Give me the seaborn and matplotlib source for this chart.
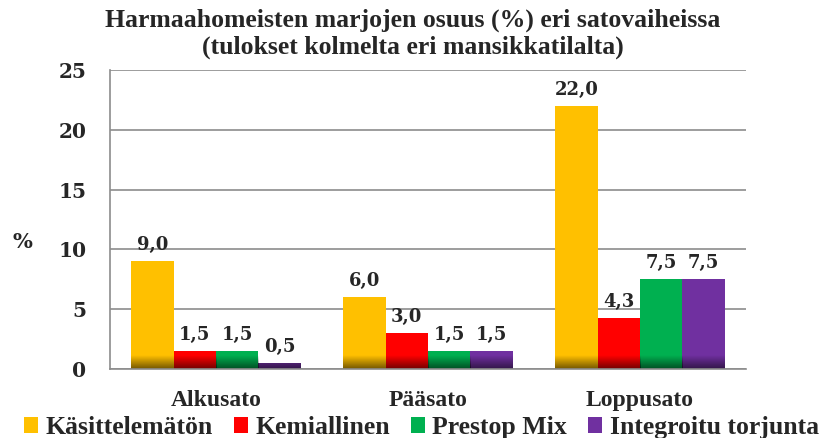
import numpy as np
import pandas as pd
import matplotlib
matplotlib.use("Agg")
import matplotlib.pyplot as plt
import seaborn as sns
from matplotlib.patches import Patch

# ============================================================
# DATA
# ============================================================

vaiheet = ["Alkusato", "Pääsato", "Loppusato"]
kasittelyt = ["Käsittelemätön", "Kemiallinen", "Prestop Mix", "Integroitu torjunta"]

kasittelematon = [9.0, 6.0, 22.0]
kemiallinen = [1.5, 3.0, 4.3]
prestop = [1.5, 1.5, 7.5]
integroitu = [0.5, 1.5, 7.5]

varit = ["#FFC000", "#FF0000", "#00B050", "#7030A0"]

y_ticks = [0, 5, 10, 15, 20, 25]

title = "Harmaahomeisten marjojen osuus (%) eri satovaiheissa\n(tulokset kolmelta eri mansikkatilalta)"

rows = []
for k, arvot in zip(kasittelyt, [kasittelematon, kemiallinen, prestop, integroitu]):
    for v, a in zip(vaiheet, arvot):
        rows.append({"vaihe": v, "kasittely": k, "osuus": a})
df = pd.DataFrame(rows)

# ============================================================
# PLOT
# ============================================================

sns.set_style("white")

cond = "Liberation Serif"
num = "DejaVu Serif"

fig = plt.figure(figsize=(8.26, 4.38), dpi=100)
ax = fig.add_axes([0.1332, 0.1575, 0.7699, 0.6827])

sns.barplot(
    data=df, x="vaihe", y="osuus", hue="kasittely",
    order=vaiheet, hue_order=kasittelyt, palette=varit,
    width=0.8, saturation=1, legend=False, ax=ax, errorbar=None,
    edgecolor="none"
)

# darker shade at the bottom of every bar
grad = np.zeros((32, 1, 4))
grad[:, 0, 3] = np.linspace(0.55, 0.0, 32)
for bar in ax.patches:
    x0 = bar.get_x()
    w = bar.get_width()
    im = ax.imshow(grad, extent=(x0, x0 + w, 0, 1.1), origin="lower",
                   aspect="auto", interpolation="bilinear", zorder=bar.get_zorder() + 0.1)
    im.set_clip_path(bar)

for cont in ax.containers:
    ax.bar_label(cont, labels=[f"{v:.1f}".replace(".", ",") for v in cont.datavalues],
                 padding=5, fontsize=13, fontweight="bold", family=num)

ax.set_xlim(-0.5, 2.5)
ax.set_ylim(0, 25)
ax.set_yticks(y_ticks)
ax.set_yticklabels([str(t) for t in y_ticks], fontsize=14.5, fontweight="bold", family=num)
ax.set_xticks(range(3))
ax.set_xticklabels(vaiheet, fontsize=17, fontweight="bold", family=cond)
ax.set_xticks([-0.5, 0.5, 1.5, 2.5], minor=True)
ax.tick_params(axis="x", which="major", length=0, pad=15)
ax.tick_params(axis="x", which="minor", length=6, color="#8C8C8C", width=1.2, direction="out")
ax.tick_params(axis="y", length=7, color="#8C8C8C", width=1.2, direction="out", pad=10)

ax.grid(axis="y", color="#8C8C8C", linewidth=1.2)
ax.set_axisbelow(True)
for s in ["top", "right"]:
    ax.spines[s].set_visible(False)
for s in ["left", "bottom"]:
    ax.spines[s].set_color("#8C8C8C")
    ax.spines[s].set_linewidth(1.2)

ax.set_xlabel("")
ax.set_ylabel("%", rotation=0, fontsize=15, fontweight="bold", family=num, va="center", ha="center")
ax.yaxis.set_label_coords(-0.137, 0.425)

fig.suptitle(title, x=0.5, y=0.98, fontsize=18.5, fontweight="bold", family=cond, linespacing=1.2)

handles = [Patch(facecolor=c, edgecolor="none") for c in varit]
leg = fig.legend(handles, kasittelyt, loc="lower center", bbox_to_anchor=(0.51, -0.055), ncol=4,
                 frameon=False, handlelength=0.55, handleheight=0.55, handletextpad=0.3,
                 columnspacing=0.8, fontsize=18.5)
for t in leg.get_texts():
    t.set_fontfamily([cond])
    t.set_fontweight("bold")

fig.savefig("out.png", dpi=100)
